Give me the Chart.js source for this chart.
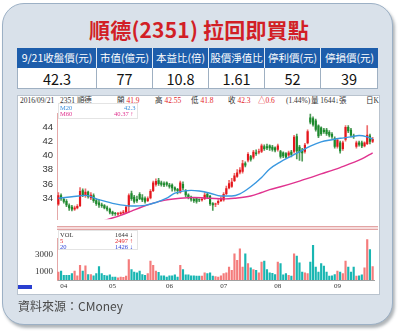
<!DOCTYPE html>
<html>
<head>
<meta charset="utf-8">
<script src="https://cdn.jsdelivr.net/npm/chart.js@4"></script>
<style>
body{margin:0;width:400px;height:334px;background:#fff;position:relative;overflow:hidden;font-family:"Noto Sans CJK TC","Noto Sans",sans-serif;}
.abs{position:absolute;}
#panel{left:2px;top:3px;width:389px;height:320px;border:1.5px solid #9cb0c5;border-radius:22px;background:#d9e1ea;box-shadow:2px 3px 3px rgba(80,90,100,.45);}
#title{left:0;top:14px;width:398px;text-align:center;font-size:21px;font-weight:bold;color:#d21f26;letter-spacing:0.2px;}
.th{top:48px;height:20px;line-height:20px;background:#1d5dab;color:#fff;font-size:10.5px;text-align:center;border-right:1px solid #dfe8f2;box-sizing:border-box;}
.td{top:68px;height:21px;line-height:21px;background:#fff;color:#111;font-size:14.5px;text-align:center;border-right:1px solid #9fb0c2;border-bottom:1px solid #9fb0c2;box-sizing:border-box;}
#box{left:17px;top:95px;width:361px;height:198px;background:#fff;border:1px solid #b9c3ce;}
.hd{top:96px;font-size:7.5px;line-height:9px;color:#333;font-family:"Liberation Serif","Noto Sans CJK TC",serif;white-space:nowrap;}
.r{color:#e3262a;}
.lg{font-size:6.5px;line-height:6px;font-family:"Liberation Serif",serif;white-space:nowrap;}
#src{left:18px;top:297px;font-size:12px;color:#4a4a4a;}
</style>
</head>
<body>
<div id="panel" class="abs"></div>
<div id="title" class="abs">順德(2351) 拉回即買點</div>

<div class="abs th" style="left:17px;width:80px;border-left:1px solid #1d5dab">9/21收盤價(元)</div>
<div class="abs th" style="left:97px;width:56px">市值(億元)</div>
<div class="abs th" style="left:153px;width:56px">本益比(倍)</div>
<div class="abs th" style="left:209px;width:56px">股價淨值比</div>
<div class="abs th" style="left:265px;width:56px">停利價(元)</div>
<div class="abs th" style="left:321px;width:57px;border-right:none">停損價(元)</div>
<div class="abs td" style="left:17px;width:80px;border-left:1px solid #9fb0c2">42.3</div>
<div class="abs td" style="left:97px;width:56px">77</div>
<div class="abs td" style="left:153px;width:56px">10.8</div>
<div class="abs td" style="left:209px;width:56px">1.61</div>
<div class="abs td" style="left:265px;width:56px">52</div>
<div class="abs td" style="left:321px;width:57px">39</div>

<div id="box" class="abs"></div>
<div class="abs hd" style="left:20px">2016/09/21</div>
<div class="abs hd" style="left:60px">2351 順德</div>
<div class="abs hd" style="left:117px">開 <span class="r">41.9</span></div>
<div class="abs hd" style="left:155px">高 <span class="r">42.55</span></div>
<div class="abs hd" style="left:191px">低 <span class="r">41.8</span></div>
<div class="abs hd" style="left:228px">收 <span class="r">42.3</span></div>
<div class="abs hd r" style="left:258px">△0.6</div>
<div class="abs hd" style="left:286px">(1.44%)</div>
<div class="abs hd" style="left:311px">量 1644↓張</div>
<div class="abs hd" style="left:366px">日K</div>

<canvas id="priceChart" class="abs" width="360" height="125" style="left:18px;top:104px"></canvas>
<div class="abs" style="left:57px;top:226px;width:321px;height:2px;background:#f6dcdc;border-top:1px solid #e2a4a4;border-bottom:1px solid #e2a4a4"></div>
<canvas id="volChart" class="abs" width="360" height="65" style="left:18px;top:229px"></canvas>

<div class="abs" style="left:58px;top:103px;width:78px;height:14px;background:rgba(255,255,255,.9);border:1px solid #e4e4e4"></div>
<div class="abs lg" style="left:60px;top:105px;color:#3a8fdc">M20</div>
<div class="abs lg" style="left:124px;top:105px;color:#3a8fdc">42.3</div>
<div class="abs lg" style="left:60px;top:111px;color:#e0338f">M60</div>
<div class="abs lg" style="left:114px;top:111px;color:#e0338f">40.37 ↑</div>

<div class="abs" style="left:58px;top:230px;width:78px;height:18px;background:rgba(255,255,255,.9);border:1px solid #e4e4e4"></div>
<div class="abs lg" style="left:60px;top:232px;color:#333">VOL</div>
<div class="abs lg" style="left:115px;top:232px;color:#333">1644 ↓</div>
<div class="abs lg" style="left:60px;top:238px;color:#e3262a">5</div>
<div class="abs lg" style="left:115px;top:238px;color:#e3262a">2497 ↑</div>
<div class="abs lg" style="left:60px;top:244px;color:#2b3fd6">20</div>
<div class="abs lg" style="left:115px;top:244px;color:#2b3fd6">1426 ↓</div>

<div class="abs" style="left:18px;top:285px;width:14px;height:4px;background:#2a3fd0"></div>
<div id="src" class="abs">資料來源：CMoney</div>

<script>
// trading days per month shown on the chart (Mar tail .. Sep 21)
const monthNames = ['03', '04', '05', '06', '07', '08', '09'];
const monthDays = [2, 18, 21, 20, 20, 22, 14];

const openP = [33.1,34.4,33.9,33.6,33.0,32.8,32.4,32.6,32.9,35.1,
  34.3,34.9,34.0,34.4,33.7,33.4,33.1,33.0,32.7,32.5,
  32.1,31.9,31.7,31.8,31.9,32.0,32.8,34.7,34.2,33.9,
  34.6,34.1,34.0,33.6,34.0,35.0,35.9,36.5,36.2,36.1,
  36.2,35.9,35.9,35.5,35.3,34.8,36.0,35.0,34.5,34.2,
  33.9,34.0,33.8,33.7,33.9,34.6,34.3,33.3,33.1,33.3,
  33.6,33.7,34.6,35.4,35.6,36.4,37.0,37.6,37.7,38.9,
  39.3,39.9,39.7,40.4,40.4,40.5,41.3,41.3,41.4,41.2,
  41.1,40.8,40.6,40.4,40.3,40.0,40.5,40.5,42.7,41.2,
  40.8,40.5,41.7,45.3,45.2,44.9,44.2,43.9,43.6,43.6,
  43.3,43.0,42.4,41.2,41.8,40.9,42.2,44.0,43.6,42.8,
  41.2,41.8,41.8,41.3,41.6,42.8,41.9];
const highP = [34.8,34.6,34.1,33.8,33.2,33.0,32.9,33.1,35.5,35.3,
  35.3,35.0,34.8,34.6,33.9,33.8,33.3,33.1,32.9,32.6,
  32.2,32.0,32.0,32.1,32.3,33.0,34.6,35.0,34.4,34.3,
  34.8,34.5,34.2,34.2,35.2,36.4,36.7,36.8,36.4,36.3,
  36.3,36.1,36.0,35.6,35.4,36.4,36.3,35.2,34.6,34.3,
  34.0,34.1,33.9,34.0,34.8,34.8,34.4,33.4,33.3,33.8,
  34.2,34.8,35.7,36.5,36.8,37.5,38.0,38.3,39.3,39.1,
  40.4,40.0,40.7,40.8,40.9,41.6,41.5,41.6,41.5,41.4,
  41.2,41.6,40.7,40.5,40.4,40.6,40.7,42.8,43.0,41.4,
  41.0,41.7,43.6,45.9,45.4,45.1,44.3,44.0,43.8,43.8,
  43.5,43.2,42.6,42.4,42.0,42.0,44.2,44.2,43.8,43.0,
  42.0,42.0,42.0,41.9,44.2,43.0,42.55];
const lowP = [33.0,33.7,33.3,32.8,32.3,32.2,32.3,32.5,32.8,34.2,
  34.1,34.0,33.8,33.4,33.0,32.7,32.7,32.5,32.2,31.8,
  31.6,31.6,31.6,31.7,31.8,31.9,32.0,33.7,33.3,33.4,
  33.8,33.5,33.3,33.5,33.9,34.9,35.7,35.8,35.7,35.6,
  35.7,35.4,35.0,35.0,34.6,34.7,35.2,34.2,33.9,33.6,
  33.4,33.3,33.5,33.6,33.8,34.0,33.0,32.3,32.8,33.1,
  33.5,33.6,34.5,35.3,35.5,36.3,36.9,37.4,37.5,38.4,
  39.1,39.2,39.5,40.0,40.2,40.4,40.7,40.8,40.7,40.6,
  40.5,40.6,39.6,39.7,39.6,39.8,39.8,40.3,39.5,39.3,
  39.2,40.3,41.6,44.4,44.1,43.4,42.5,42.8,43.1,42.8,
  42.6,42.4,41.0,41.0,40.3,40.7,42.0,43.2,42.6,42.4,
  41.0,41.3,41.1,41.2,41.5,41.6,41.8];
const closeP = [34.4,33.9,33.5,33.0,32.6,32.4,32.7,32.9,35.0,34.4,
  34.9,34.2,34.5,33.6,33.2,33.0,32.9,32.6,32.4,32.0,
  31.8,31.8,31.9,32.0,32.1,32.8,34.4,33.9,33.5,33.6,
  33.9,33.7,33.5,34.0,35.0,36.2,36.4,36.0,35.9,35.8,
  35.9,35.6,35.4,35.2,35.0,36.2,35.4,34.4,34.1,33.8,
  33.6,33.5,33.7,33.9,34.5,34.1,33.2,33.0,33.15,33.6,
  34.0,34.6,35.4,36.1,36.3,37.2,37.6,38.0,38.9,38.6,
  40.2,39.4,40.5,40.2,40.6,41.4,40.9,41.0,41.0,40.8,
  40.7,41.4,39.8,39.9,39.7,40.4,40.1,42.6,40.6,40.4,
  40.3,41.5,43.4,44.6,44.3,43.6,42.7,43.0,43.3,43.0,
  42.8,42.6,41.2,42.2,40.6,41.8,44.0,43.4,42.8,42.6,
  41.8,41.5,41.3,41.8,42.9,41.9,42.3];
const volume = [1000,1100,600,600,600,800,1100,550,1800,1100,
  1750,700,700,550,800,1650,800,600,550,650,
  400,400,300,400,350,500,2500,1300,1000,900,
  1100,700,600,800,2300,1800,1100,950,550,550,
  400,550,550,650,400,1800,1300,650,650,550,
  550,500,500,500,900,800,900,500,450,400,
  550,800,900,1600,1200,3200,2400,3800,1600,3200,
  2000,1500,1300,1200,900,2200,2300,1300,900,850,
  700,2200,2000,650,800,600,500,3200,2900,2100,
  1000,900,800,2200,4200,1600,1000,2000,1700,1000,
  500,550,700,1100,1000,800,2300,1600,1000,1600,
  500,550,650,1500,4900,3700,1644];

// moving averages at these day indexes
const ma20Days = [0,5,10,15,21,27,32,36,40,43,49,52,56,60,64,67,71,75,78,82,86,89,93,97,101,104,108,111,114,116];
const ma20Vals = [34.0,34.2,34.4,33.8,33.2,32.9,33.0,33.4,34.0,34.7,35.1,35.0,34.7,34.3,34.3,34.6,35.6,36.9,38.1,39.1,39.9,40.5,41.3,41.9,42.2,42.4,42.6,42.8,42.6,42.3];
const ma60Days = [0,9,14,18,23,27,31,35,39,45,50,56,61,65,71,75,78,82,89,97,104,112,116];
const ma60Vals = [29.0,30.0,30.5,31.0,31.6,32.2,32.8,33.3,33.7,34.0,34.1,34.0,33.9,34.0,34.3,34.8,35.2,35.6,36.4,37.4,38.3,39.5,40.37];

const priceTicks = [34, 36, 38, 40, 42, 44];
const volTicks = [1000, 3000];

const UP = '#e4161c', DOWN = '#1b8a2c';
const UP_WICK = '#ee6c6c', DOWN_WICK = '#4f9a58';
const VOL_UP = '#f47c7c', VOL_DOWN = '#19b6b2';

let dayLabels = [];
let monthStart = [];
monthNames.forEach(function (m, k) {
    for (let d = 0; d < monthDays[k]; d++) {
        dayLabels.push(m);
        monthStart.push(d === 0 && k > 0);
    }
});
const n = dayLabels.length;

function sparse(days, vals) {
    let arr = new Array(n).fill(null);
    days.forEach(function (d, k) { arr[d] = vals[k]; });
    return arr;
}

let bodies = [], wicks = [], bodyColors = [], wickColors = [], volColors = [];
for (let i = 0; i < n; i++) {
    let up = closeP[i] >= openP[i];
    bodies.push([openP[i], closeP[i]]);
    wicks.push([lowP[i], highP[i]]);
    bodyColors.push(up ? UP : DOWN);
    wickColors.push(up ? UP_WICK : DOWN_WICK);
    volColors.push(up ? VOL_UP : VOL_DOWN);
}

new Chart(document.getElementById('priceChart'), {
    type: 'bar',
    data: {
        labels: dayLabels,
        datasets: [
            {type: 'line', data: sparse(ma20Days, ma20Vals), borderColor: '#3a98e0', borderWidth: 1.4,
             pointRadius: 0, spanGaps: true, cubicInterpolationMode: 'monotone', order: 0},
            {type: 'line', data: sparse(ma60Days, ma60Vals), borderColor: '#e0338f', borderWidth: 1.4,
             pointRadius: 0, spanGaps: true, cubicInterpolationMode: 'monotone', order: 0},
            {data: wicks, backgroundColor: wickColors, barThickness: 1, grouped: false, order: 2},
            {data: bodies, backgroundColor: bodyColors, barPercentage: 0.8, categoryPercentage: 1,
             grouped: false, minBarLength: 1, order: 1}
        ]
    },
    options: {
        responsive: false,
        animation: false,
        layout: {padding: {top: 3, right: 4, bottom: 2, left: 0}},
        plugins: {legend: {display: false}, tooltip: {enabled: false}},
        scales: {
            x: {display: false, offset: true},
            y: {
                min: 31.04, max: 45.85,
                afterBuildTicks: function (s) { s.ticks = priceTicks.map(v => ({value: v})); },
                afterFit: function (s) { s.width = 39; },
                grid: {display: false, drawTicks: false},
                border: {color: '#e4a8a8'},
                ticks: {padding: 4, font: {family: 'Liberation Sans', size: 9.5}, color: '#333'}
            }
        }
    }
});

new Chart(document.getElementById('volChart'), {
    type: 'bar',
    data: {
        labels: dayLabels,
        datasets: [{data: volume, backgroundColor: volColors, barPercentage: 0.8, categoryPercentage: 1}]
    },
    options: {
        responsive: false,
        animation: false,
        layout: {padding: {top: 1, right: 4, bottom: 0, left: 0}},
        plugins: {legend: {display: false}, tooltip: {enabled: false}},
        scales: {
            x: {
                afterFit: function (s) { s.height = 14; },
                grid: {display: false, drawTicks: false},
                border: {color: '#a0a0a0'},
                ticks: {
                    autoSkip: false, maxRotation: 0, padding: 2,
                    font: {family: 'Liberation Serif', size: 7}, color: '#333',
                    callback: function (v, i) { return monthStart[i] ? dayLabels[i] : ''; }
                }
            },
            y: {
                min: 0, max: 5000,
                afterBuildTicks: function (s) { s.ticks = volTicks.map(v => ({value: v})); },
                afterFit: function (s) { s.width = 39; },
                grid: {display: false, drawTicks: false},
                border: {color: '#e4a8a8'},
                ticks: {padding: 4, font: {family: 'Liberation Serif', size: 9}, color: '#333',
                        callback: function (v) { return String(v); }}
            }
        }
    }
});
</script>
</body>
</html>
